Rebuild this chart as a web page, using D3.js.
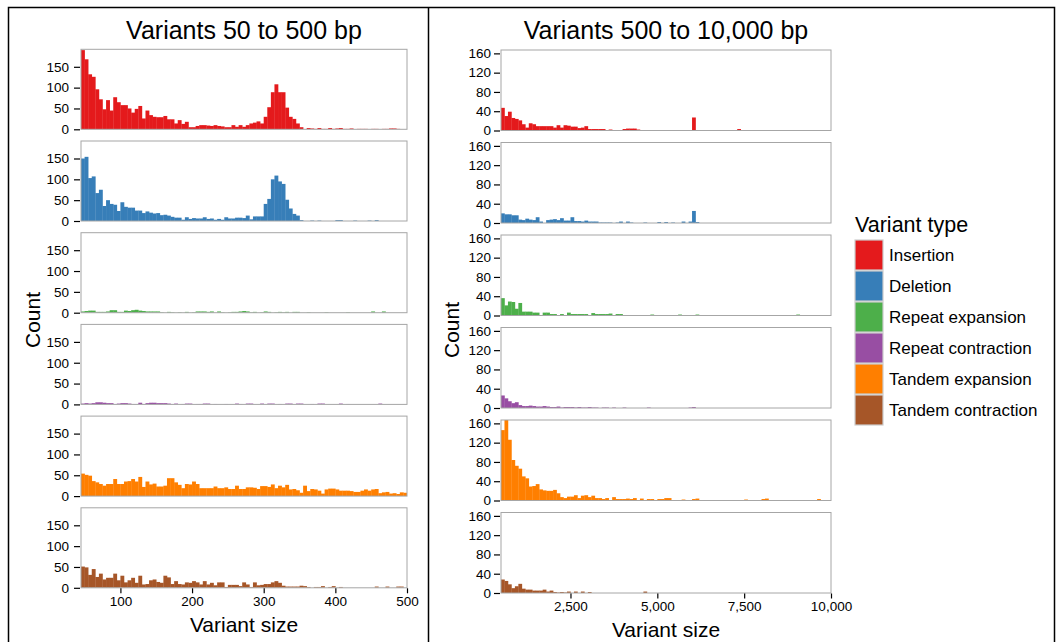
<!DOCTYPE html>
<html><head><meta charset="utf-8">
<script src="https://cdn.jsdelivr.net/npm/d3@7/dist/d3.min.js"></script>
<style>body{margin:0;background:#fff}svg{font-family:"Liberation Sans",Arial,sans-serif}</style>
</head><body><svg id="c" width="1061" height="642"></svg>
<script>
const types = ["Insertion","Deletion","Repeat expansion","Repeat contraction","Tandem expansion","Tandem contraction"];
const colors = ["#E41A1C","#377EB8","#4DAF4A","#984EA3","#FF7F00","#A65628"];

// Left: bins of width 5 starting at 45 (91 bins)
const leftBinStart = 45, leftBinWidth = 5;
const leftInsertion = [190,168,132,126,96,72,48,70,45,77, 65,58,58,50,40,49,56,26,45,34, 30,29,29,32,24,24,14,22,13,18, 5,5,8,10,10,9,8,10,8,7, 5,5,10,6,10,6,10,14,16,19, 14,30,53,89,108,89,89,52,30,25, 14,5,0,3,2,1,3,1,1,3, 1,2,3,1,1,2,0,1,1,1, 0,1,1,0,1,1,2,2,1,0, 0];
const leftDeletion = [150,154,103,107,67,75,36,50,41,39, 24,45,34,32,32,25,25,19,23,20, 18,19,14,15,13,10,8,8,3,9, 5,7,6,6,9,5,6,3,5,3, 9,6,6,8,8,7,13,4,11,11, 11,41,53,100,109,95,89,51,30,17, 13,2,0,0,1,0,1,0,0,0, 0,2,2,0,0,0,1,0,0,0, 1,0,2,0,0,0,0,0,0,0, 0];
const leftRepeatExp = [3,4,5,5,2,2,2,3,6,6, 2,2,5,4,6,7,5,4,3,3, 3,3,1,0,2,1,0,1,0,2, 0,1,3,3,3,2,3,0,3,1, 0,1,2,2,3,4,3,1,2,0, 1,3,2,0,1,2,1,2,0,2, 2,0,0,1,0,0,0,0,1,0, 0,0,0,0,1,0,0,0,0,0, 0,3,0,0,3,0,0,0,0,0, 0];
const leftRepeatCon = [2,3,2,3,5,5,4,3,3,1, 2,3,3,2,1,1,4,1,3,4, 4,3,3,3,2,1,2,0,1,2, 2,0,1,1,2,2,0,1,0,0, 1,0,0,2,1,0,2,2,0,0, 2,0,2,2,0,1,0,2,2,0, 2,2,0,0,1,0,2,2,0,0, 0,0,2,0,1,0,0,0,0,0, 0,0,0,2,0,0,0,0,0,0, 0];
const leftTandemExp = [54,51,49,36,33,29,25,29,29,41, 29,29,35,36,41,35,46,22,35,28, 30,23,23,25,43,43,33,27,19,29, 28,35,29,19,19,19,19,23,19,19, 21,17,17,25,17,17,21,21,20,17, 24,24,22,28,19,25,21,27,16,17, 14,8,25,12,17,16,13,6,16,18, 18,16,13,13,13,12,10,10,13,16, 13,16,17,7,9,10,6,7,5,9, 8];
const leftTandemCon = [51,49,31,45,26,34,20,24,24,34, 18,29,13,18,24,12,29,8,9,18, 20,14,12,29,25,9,16,9,8,13, 12,16,13,8,16,8,12,6,13,13, 2,7,7,7,4,13,8,2,13,6, 7,9,9,13,16,12,5,3,3,3, 3,5,4,2,0,2,2,4,0,2, 4,0,2,0,0,0,0,0,0,0, 0,0,3,0,0,3,0,0,3,3, 0];

// Right: bins of width 100 starting at 500 (95 bins)
const rightBinStart = 500, rightBinWidth = 100;
const rightInsertion = [47,30,39,26,24,21,13,6,15,13, 9,9,9,9,9,6,11,6,11,10, 8,8,5,6,9,3,3,3,3,3, 1,2,1,1,1,3,4,4,4,2, 1,1,1,1,0,0,0,0,0,0, 0,1,0,0,0,27,0,0,0,0, 0,0,0,0,0,0,0,0,3,0, 0,0,0,0,0,0,0,0,0,0, 0,0,0,0,0,0,0,0,0,0, 0,0,0,0,0];
const rightDeletion = [20,18,18,16,16,7,6,9,7,6, 12,3,0,6,7,8,6,10,5,5, 12,4,4,3,5,3,3,3,1,1, 1,1,0,1,3,0,3,1,0,0, 0,1,0,0,0,2,0,2,0,1, 0,0,3,0,3,25,2,0,0,0, 0,0,0,0,0,0,0,0,0,0, 0,0,0,0,0,0,0,0,0,0, 0,0,0,0,0,0,0,0,0,0, 0,0,0,0,0];
const rightRepeatExp = [36,21,29,28,14,26,8,8,8,6, 6,1,6,6,3,3,1,3,1,6, 3,3,3,3,3,1,5,3,3,3, 3,4,1,3,3,1,0,1,0,0, 0,1,0,2,0,0,0,0,0,0, 0,2,0,0,0,0,2,0,0,0, 0,0,0,0,0,0,0,0,0,0, 0,0,0,0,0,0,0,0,0,0, 0,0,0,0,0,2,0,0,0,0, 0,0,0,0,0];
const rightRepeatCon = [26,20,14,10,12,6,4,4,5,4, 3,3,4,3,2,2,3,1,2,2, 2,1,2,1,1,2,1,1,0,1, 1,0,1,0,0,1,0,0,0,0, 0,0,1,0,0,0,0,0,0,0, 0,0,0,0,1,2,0,0,0,0, 0,0,0,0,0,0,0,0,0,0, 0,0,0,0,0,0,0,0,0,0, 0,0,0,0,0,0,0,0,0,0, 0,0,0,0,0];
const rightTandemExp = [146,167,126,84,72,66,50,46,29,30, 34,23,21,20,20,22,15,7,5,8, 8,11,5,10,11,7,10,5,5,3, 5,0,7,3,3,3,4,3,5,1, 4,1,3,3,1,3,3,5,5,1, 0,0,2,0,0,3,4,0,0,0, 0,0,0,0,0,0,0,0,0,0, 2,0,0,0,0,3,4,0,0,0, 0,0,0,0,0,0,0,0,0,0, 0,3,0,0,0];
const rightTandemCon = [28,25,18,10,14,19,9,7,7,5, 5,5,7,3,5,2,1,2,1,3, 0,3,0,3,0,2,0,0,0,0, 0,0,0,0,0,0,0,0,0,0, 0,3,0,0,0,0,0,0,0,0, 0,0,0,0,0,0,0,0,0,0, 0,0,0,0,0,0,0,0,0,0, 0,0,0,0,0,0,0,0,0,0, 0,0,0,0,0,0,0,0,0,0, 0,0,0,0,0];

const leftYTicks = [0,50,100,150];
const rightYTicks = [0,40,80,120,160];
const leftXTicks = [100,200,300,400,500];
const rightXTicks = [2500,5000,7500,10000];

const leftSeries = [leftInsertion,leftDeletion,leftRepeatExp,leftRepeatCon,leftTandemExp,leftTandemCon];
const rightSeries = [rightInsertion,rightDeletion,rightRepeatExp,rightRepeatCon,rightTandemExp,rightTandemCon];

const svg = d3.select("#c");
// outer frame
svg.append("rect").attr("x",8.5).attr("y",7.5).attr("width",1046).attr("height",660)
  .attr("fill","none").attr("stroke","#000").attr("stroke-width",1.5);
svg.append("line").attr("x1",428.5).attr("x2",428.5).attr("y1",7).attr("y2",642)
  .attr("stroke","#000").attr("stroke-width",1.5);

function drawSide(cfg){
  const x = d3.scaleLinear().domain(cfg.xDomain).range([cfg.x0,cfg.x1]);
  cfg.series.forEach((vals,k)=>{
    const top = cfg.top0 + k*cfg.step;
    const y = d3.scaleLinear().domain(cfg.yDomain).range([top+cfg.h, top]);
    const g = svg.append("g");
    const cid = cfg.id+"clip"+k;
    svg.append("clipPath").attr("id",cid).append("rect")
      .attr("x",cfg.x0).attr("y",top).attr("width",cfg.x1-cfg.x0).attr("height",cfg.h);
    g.append("g").attr("clip-path",`url(#${cid})`).selectAll("rect").data(vals).join("rect")
      .attr("x",(d,i)=>x(cfg.binStart+i*cfg.binWidth))
      .attr("width",(d,i)=>x(cfg.binStart+(i+1)*cfg.binWidth)-x(cfg.binStart+i*cfg.binWidth)+0.3)
      .attr("y",d=>y(d)).attr("height",d=>y(0)-y(d))
      .attr("fill",colors[k]);
    g.append("rect").attr("x",cfg.x0).attr("y",top).attr("width",cfg.x1-cfg.x0).attr("height",cfg.h)
      .attr("fill","none").attr("stroke","#a6a6a6").attr("stroke-width",1);
    const ya = d3.axisLeft(y).tickValues(cfg.yTicks).tickSize(6).tickPadding(cfg.yPad);
    const ag = g.append("g").attr("transform",`translate(${cfg.x0-1},0)`).call(ya);
    ag.select(".domain").remove();
    ag.selectAll("line").attr("stroke","#000").attr("stroke-width",1.2);
    ag.selectAll("text").attr("font-size",13.5).attr("fill","#000").attr("font-family","Liberation Sans, Arial, sans-serif");
    if(k===cfg.series.length-1){
      const xa = d3.axisBottom(x).tickValues(cfg.xTicks).tickSize(5).tickPadding(3)
        .tickFormat(d3.format(","));
      const xg = g.append("g").attr("transform",`translate(0,${top+cfg.h+0.5})`).call(xa);
      xg.select(".domain").remove();
      xg.selectAll("line").attr("stroke","#000").attr("stroke-width",1.2);
      xg.selectAll("text").attr("font-size",13.5).attr("fill","#000").attr("font-family","Liberation Sans, Arial, sans-serif");
    }
  });
  svg.append("text").attr("x",cfg.titleX).attr("y",39).attr("text-anchor","middle")
    .attr("font-size",25).text(cfg.title);
  svg.append("text").attr("x",cfg.xLabX).attr("y",cfg.xLabY).attr("text-anchor","middle")
    .attr("font-size",21).text("Variant size");
  svg.append("text").attr("transform",`translate(${cfg.yLabX},${cfg.yLabY}) rotate(-90)`)
    .attr("text-anchor","middle").attr("font-size",21).text("Count");
}

drawSide({id:"L", series:leftSeries, xDomain:[45,500], x0:81, x1:407, top0:49.3, step:91.7, h:80,
  yDomain:[0,192], yTicks:leftYTicks, xTicks:leftXTicks, binStart:leftBinStart, binWidth:leftBinWidth, yPad:5,
  title:"Variants 50 to 500 bp", titleX:244, xLabX:244, xLabY:632, yLabX:40, yLabY:320});
drawSide({id:"R", series:rightSeries, xDomain:[500,10000], x0:501, x1:831, top0:50, step:92.5, h:80.5,
  yDomain:[0,167], yTicks:rightYTicks, xTicks:rightXTicks, binStart:rightBinStart, binWidth:rightBinWidth, yPad:3,
  title:"Variants 500 to 10,000 bp", titleX:666, xLabX:666, xLabY:637, yLabX:459, yLabY:330});

// legend
const lg = svg.append("g");
lg.append("text").attr("x",855).attr("y",232).attr("font-size",21.5).text("Variant type");
types.forEach((t,i)=>{
  const yy = 240 + i*31;
  lg.append("rect").attr("x",855).attr("y",yy).attr("width",28).attr("height",30)
    .attr("fill",colors[i]).attr("stroke","#cccccc").attr("stroke-width",1.2);
  lg.append("text").attr("x",889).attr("y",yy+21).attr("font-size",17).text(t);
});
</script></body></html>
